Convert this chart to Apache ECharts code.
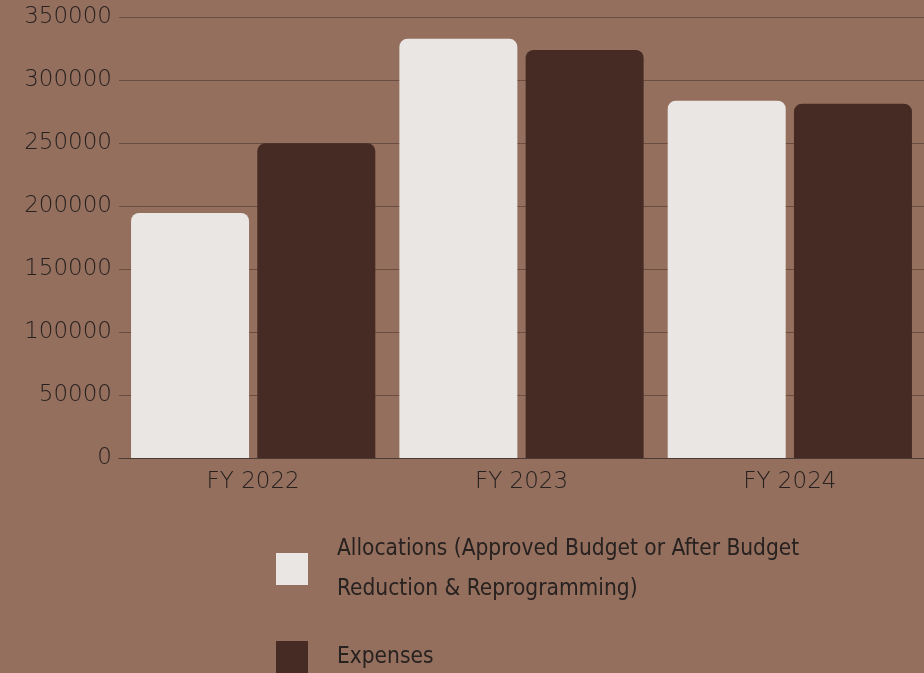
<!DOCTYPE html>
<html>
<head>
<meta charset="utf-8">
<script src="https://cdn.jsdelivr.net/npm/echarts@6/dist/echarts.min.js"></script>
<style>
  html, body { margin: 0; padding: 0; background: #946f5d; }
  #content { width: 924px; height: 673px; }
</style>
</head>
<body>
<div id="content"></div>
<script>
var categories = ['FY 2022', 'FY 2023', 'FY 2024'];
var allocations = [194500, 332700, 283600];
var expenses = [249800, 323900, 281200];
var seriesNames = ['Allocations (Approved Budget or After Budget\nReduction & Reprogramming)', 'Expenses'];

var myChart = echarts.init(document.getElementById('content'));
var textColor = '#272120';
var axisFont = '"DejaVu Sans", sans-serif';

var option = {
    backgroundColor: '#946f5d',
    animation: false,
    grid: {
        left: 119,
        top: 17,
        width: 813,
        height: 441
    },
    legend: {
        orient: 'vertical',
        left: 271,
        top: 524,
        itemWidth: 32,
        itemHeight: 32,
        itemGap: 28,
        icon: 'rect',
        data: seriesNames,
        textStyle: {
            fontFamily: '"DejaVu Sans Condensed", sans-serif',
            fontSize: 22.5,
            lineHeight: 40,
            color: textColor,
            padding: [0, 0, 0, 24]
        }
    },
    xAxis: {
        type: 'category',
        data: categories,
        axisTick: { show: false },
        axisLine: { lineStyle: { color: '#4a3a33', width: 1 } },
        axisLabel: {
            color: textColor,
            fontFamily: axisFont,
            fontWeight: 200,
            fontSize: 23,
            margin: 13
        }
    },
    yAxis: {
        type: 'value',
        min: 0,
        max: 350000,
        interval: 50000,
        axisLabel: {
            color: textColor,
            fontFamily: axisFont,
            fontWeight: 200,
            fontSize: 23,
            margin: 7,
            verticalAlign: 'middle',
            padding: [3, 0, 0, 0],
            formatter: function (v) { return String(v); }
        },
        splitLine: { lineStyle: { color: '#6a4c40', width: 1 } }
    },
    series: [
        {
            name: seriesNames[0],
            type: 'bar',
            data: allocations,
            barWidth: 118,
            barGap: '7%',
            itemStyle: { color: '#eae6e3', borderRadius: [8, 8, 0, 0] }
        },
        {
            name: seriesNames[1],
            type: 'bar',
            data: expenses,
            barWidth: 118,
            itemStyle: { color: '#462b25', borderRadius: [8, 8, 0, 0] }
        }
    ]
};
myChart.setOption(option);
</script>
</body>
</html>
